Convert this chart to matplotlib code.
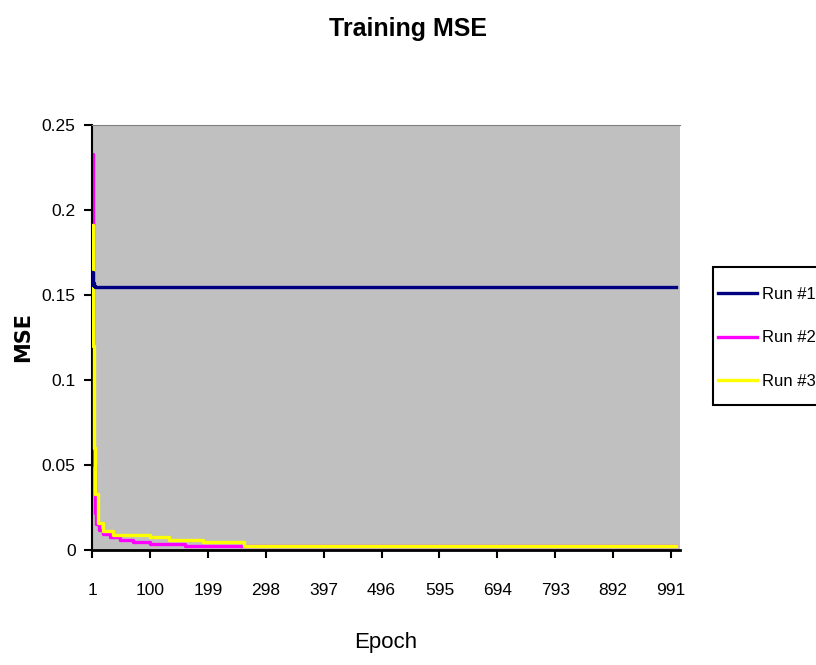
import matplotlib
matplotlib.use("Agg")
import matplotlib.pyplot as plt
from matplotlib.patches import Rectangle

# values (epoch, MSE); lines drawn as steps
run1_epoch = [1, 2, 3, 4, 6, 1000]
run1_mse = [0.1635, 0.156, 0.157, 0.1555, 0.1547, 0.1547]

run2_epoch = [1, 2, 3, 5, 8, 12, 20, 31, 48, 70, 100, 160, 262, 1000]
run2_mse = [0.233, 0.12, 0.05, 0.022, 0.015, 0.0118, 0.0095, 0.0076, 0.006,
            0.0045, 0.0035, 0.0025, 0.0022, 0.0022]

run3_epoch = [1, 2, 4, 6, 11, 20, 36, 100, 133, 190, 260, 1000]
run3_mse = [0.191, 0.12, 0.06, 0.033, 0.016, 0.011, 0.009, 0.0076, 0.006,
            0.0045, 0.0022, 0.0022]

xticks = [1, 100, 199, 298, 397, 496, 595, 694, 793, 892, 991]
yticks = [0, 0.05, 0.1, 0.15, 0.2, 0.25]
ytick_labels = ["0", "0.05", "0.1", "0.15", "0.2", "0.25"]

plt.rcParams['font.family'] = ['Liberation Sans', 'DejaVu Sans']

fig = plt.figure(figsize=(8.16, 6.65), dpi=100)
ax = fig.add_axes([0.113, 0.173, 0.72, 0.639])
ax.set_facecolor('#c0c0c0')

ax.plot(run1_epoch, run1_mse, color='#000080', lw=2.4, drawstyle='steps-post',
        label='Run #1', zorder=4)
ax.plot(run2_epoch, run2_mse, color='#ff00ff', lw=2.4, drawstyle='steps-post',
        label='Run #2', zorder=2)
ax.plot(run3_epoch, run3_mse, color='#ffff00', lw=2.4, drawstyle='steps-post',
        label='Run #3', zorder=3)

ax.set_xlim(1, 1006)
ax.set_ylim(0, 0.25)
ax.set_xticks(xticks)
ax.set_xticklabels([str(t) for t in xticks], fontsize=12.5)
ax.set_yticks(yticks)
ax.set_yticklabels(ytick_labels, fontsize=12.5)
ax.tick_params(axis='both', direction='out', length=6, width=1.5, color='black')
ax.tick_params(axis='x', pad=18)
ax.tick_params(axis='y', pad=6)

ax.spines['left'].set_color('black')
ax.spines['left'].set_linewidth(1.5)
ax.spines['bottom'].set_color('black')
ax.spines['bottom'].set_linewidth(2)
ax.spines['top'].set_color('#808080')
ax.spines['right'].set_visible(False)

ax.set_xlabel('Epoch', fontsize=16, labelpad=24)
ax.set_ylabel('MSE', fontsize=15, fontweight='bold', family=['DejaVu Sans'], labelpad=6)
fig.suptitle('Training MSE', fontsize=18, fontweight='bold', x=0.5, y=0.975)

# legend box (runs off the right edge, as in the original)
fig.patches.append(Rectangle((713 / 816, 1 - 405 / 665), 0.2, (405 - 267) / 665,
                             transform=fig.transFigure, facecolor='white',
                             edgecolor='black', linewidth=1.5, zorder=-1))
leg = ax.legend(loc='upper left', bbox_to_anchor=(718 / 816, 1 - 287 / 665),
                bbox_transform=fig.transFigure, frameon=False,
                fontsize=12, handlelength=2.35, labelspacing=1.7,
                borderpad=0, handletextpad=0.3, borderaxespad=0)
for line in leg.get_lines():
    line.set_linewidth(2.4)

fig.savefig('out.png', dpi=100)
